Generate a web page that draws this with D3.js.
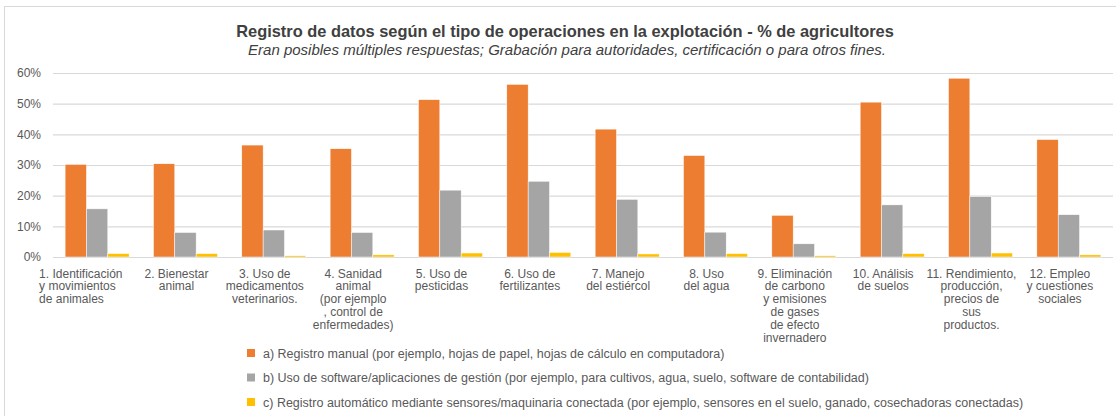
<!DOCTYPE html>
<meta charset="utf-8">
<style>
body { margin: 0; background: #fff; }
.title { font-family: "Liberation Sans Narrow", "Arial Narrow", sans-serif; font-size: 16.4px; font-weight: bold; fill: #404040; }
.subtitle { font-family: "Liberation Sans Narrow", "Arial Narrow", sans-serif; font-size: 15px; font-style: italic; fill: #404040; }
.tick text { font-family: "Liberation Sans", Arial, sans-serif; font-size: 12px; fill: #595959; }
.cat { font-family: "Liberation Sans", Arial, sans-serif; font-size: 12px; fill: #595959; }
.legend text { font-family: "Liberation Sans Narrow", "Arial Narrow", sans-serif; font-size: 12.5px; fill: #595959; }
</style>
<body></body>
<script src="https://cdn.jsdelivr.net/npm/d3@7"></script>
<script>

// categories, each entry split into the lines shown under the axis
var categories = [
    ["1. Identificación", "y movimientos", "de animales"],
    ["2. Bienestar", "animal"],
    ["3. Uso de", "medicamentos", "veterinarios."],
    ["4. Sanidad", "animal", "(por ejemplo", ", control de", "enfermedades)"],
    ["5. Uso de", "pesticidas"],
    ["6. Uso de", "fertilizantes"],
    ["7. Manejo", "del estiércol"],
    ["8. Uso", "del agua"],
    ["9. Eliminación", "de carbono", "y emisiones", "de gases", "de efecto", "invernadero"],
    ["10. Análisis", "de suelos"],
    ["11. Rendimiento,", "producción,", "precios de", "sus", "productos."],
    ["12. Empleo", "y cuestiones", "sociales"]
];

var manual   = [30.2, 30.4, 36.5, 35.3, 51.3, 56.3, 41.7, 33.1, 13.6, 50.5, 58.3, 38.3];
var software = [15.7, 8.0, 8.8, 8.0, 21.8, 24.7, 18.8, 8.1, 4.3, 17.0, 19.7, 13.8];
var sensores = [1.1, 1.1, 0.4, 0.7, 1.3, 1.5, 1.0, 1.1, 0.4, 1.1, 1.3, 0.7];

var seriesNames = [
    "a) Registro manual (por ejemplo, hojas de papel, hojas de cálculo en computadora)",
    "b) Uso de software/aplicaciones de gestión (por ejemplo, para cultivos, agua, suelo, software de contabilidad)",
    "c) Registro automático mediante sensores/maquinaria conectada (por ejemplo, sensores en el suelo, ganado, cosechadoras conectadas)"
];
var seriesColors = ["#ED7D31", "#A5A5A5", "#FFC000"];
var yTicks = [0, 10, 20, 30, 40, 50, 60];

var title = "Registro de datos según el tipo de operaciones en la explotación - % de agricultores";
var subtitle = "Eran posibles múltiples respuestas; Grabación para autoridades, certificación o para otros fines.";

var W = 1116, H = 416;
var margin = {top: 73, right: 3, bottom: 159, left: 53};
var width = W - margin.left - margin.right,
    height = H - margin.top - margin.bottom;

var svg = d3.select("body").append("svg")
    .attr("width", W).attr("height", H);

// outer frame of the chart area
svg.append("rect")
    .attr("x", 4.5).attr("y", 6.5)
    .attr("width", W + 10).attr("height", H + 10)
    .attr("fill", "none").attr("stroke", "#d9d9d9");

svg.append("text").attr("class", "title")
    .attr("x", 565).attr("y", 37).attr("text-anchor", "middle")
    .text(title);
svg.append("text").attr("class", "subtitle")
    .attr("x", 567).attr("y", 55).attr("text-anchor", "middle")
    .text(subtitle);

var g = svg.append("g")
    .attr("transform", "translate(" + margin.left + "," + margin.top + ")");

var x = d3.scaleBand().domain(d3.range(categories.length)).range([0, width]).paddingInner(0.275).paddingOuter(0.137);
var y = d3.scaleLinear().domain([0, 60]).range([height, 0]);

// gridlines + y axis labels
var yAxis = g.append("g")
    .call(d3.axisLeft(y).tickValues(yTicks).tickSize(-width).tickPadding(12)
        .tickFormat(function(d) { return d + "%"; }));
yAxis.select(".domain").remove();
yAxis.selectAll(".tick line").attr("stroke", "#d9d9d9").attr("stroke-width", 1.2);

var data = categories.map(function(c, i) {
    return [manual[i], software[i], sensores[i]];
});

var x1 = d3.scaleBand().domain([0, 1, 2]).range([0, x.bandwidth()]);

var groups = g.selectAll(".grp").data(data).enter().append("g")
    .attr("class", "grp")
    .attr("transform", function(d, i) { return "translate(" + x(i) + ",0)"; });

groups.selectAll("rect").data(function(d) { return d; }).enter().append("rect")
    .attr("x", function(d, j) { return x1(j); })
    .attr("y", function(d) { return y(d); })
    .attr("width", x1.bandwidth())
    .attr("height", function(d) { return height - y(d); })
    .attr("fill", function(d, j) { return seriesColors[j]; })
    .attr("stroke", "#fff").attr("stroke-width", 0.5);

// category labels under the axis (excel sets them a little left of the bars)
var catG = g.selectAll(".cat").data(categories).enter().append("text")
    .attr("class", "cat")
    .attr("text-anchor", "middle")
    .attr("transform", function(d, i) { return "translate(" + (x(i) + x.bandwidth() / 2 - 9) + "," + (height + 20.5) + ")"; });
catG.selectAll("tspan").data(function(d) { return d; }).enter().append("tspan")
    .attr("x", 0)
    .attr("dy", function(d, k) { return k === 0 ? 0 : 12.8; })
    .text(function(d) { return d; });

// first label is left aligned in the original
var first = catG.filter(function(d, i) { return i === 0; });
first.attr("text-anchor", "start")
    .attr("transform", "translate(" + (x(0) - 26) + "," + (height + 20.5) + ")");

// legend
var legend = svg.append("g").attr("class", "legend")
    .selectAll("g").data(seriesNames).enter().append("g")
    .attr("transform", function(d, i) { return "translate(247," + (353 + i * 24.5) + ")"; });
legend.append("rect")
    .attr("x", 0).attr("y", -4).attr("width", 8).attr("height", 8)
    .attr("fill", function(d, i) { return seriesColors[i]; });
legend.append("text")
    .attr("x", 16).attr("y", 4.5)
    .text(function(d) { return d; });

</script>
